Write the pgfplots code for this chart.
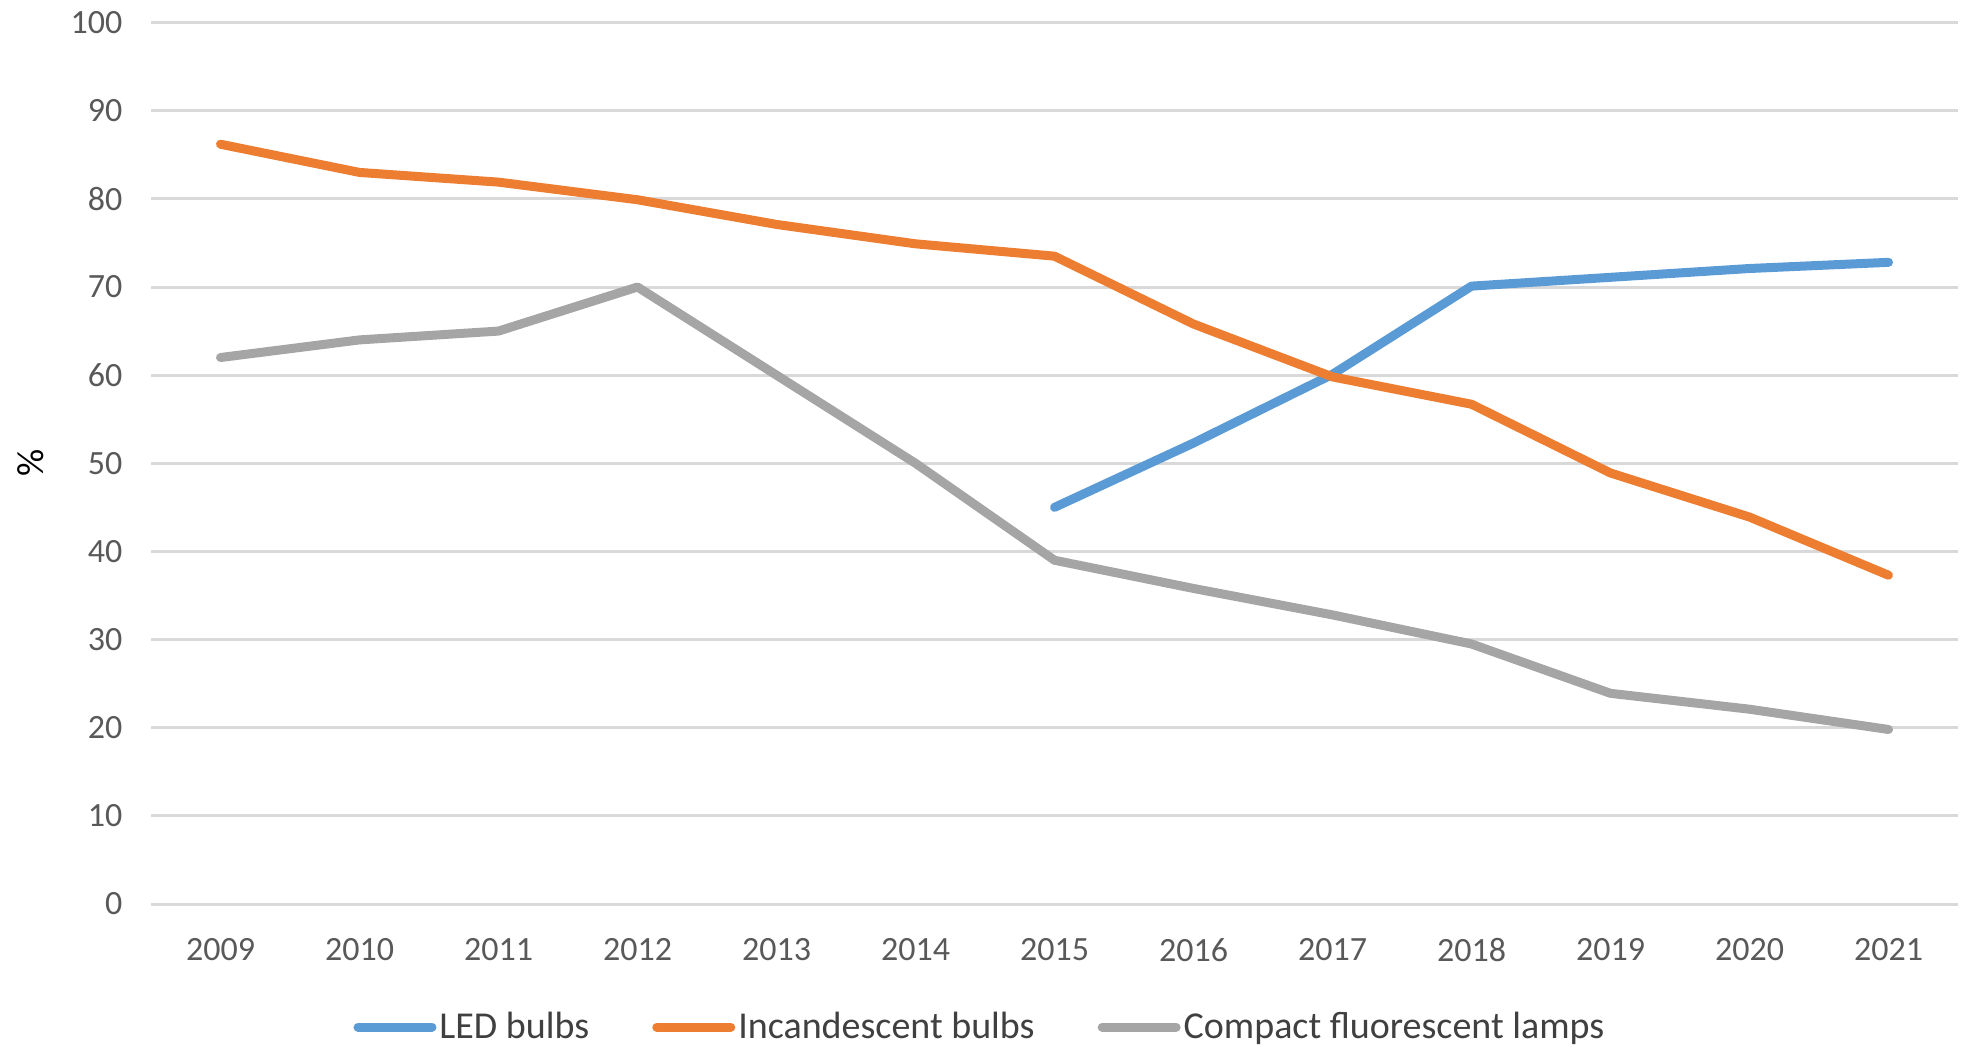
\documentclass[border=0pt]{standalone}
\usepackage{pgfplots}
\pgfplotsset{compat=1.18}
\usepackage{fontspec}
\setmainfont{Carlito}
\definecolor{cBlue}{HTML}{5B9BD5}
\definecolor{cOrange}{HTML}{ED7D31}
\definecolor{cGray}{HTML}{A5A5A5}
\definecolor{cGrid}{HTML}{D9D9D9}
\definecolor{cTick}{HTML}{595959}
\definecolor{cLeg}{HTML}{404040}
\begin{document}
\begin{tikzpicture}
\useasboundingbox (0,0) rectangle (984.5bp,525.5bp);
\begin{axis}[
  at={(75.5bp,73.5bp)}, anchor=south west,
  scale only axis, width=903.5bp, height=440.7bp,
  xmin=-0.5, xmax=12.5, ymin=0, ymax=100,
  xtick={0,1,2,3,4,5,6,7,8,9,10,11,12},
  xticklabels={2009,2010,2011,2012,2013,2014,2015,2016,2017,2018,2019,2020,2021},
  ytick={0,10,20,30,40,50,60,70,80,90,100},
  ymajorgrids, grid style={color=cGrid, line width=1.5bp},
  axis line style={draw=none}, major tick length=0pt,
  tick label style={font=\fontsize{17bp}{20bp}\selectfont, text=cTick},
  /pgf/number format/assume math mode=true,
  yticklabel style={xshift=-10.8bp},
  xticklabel style={yshift=-13.5bp},
  ylabel={\%},
  ylabel style={at={(axis description cs:-0.0664,0.5)}, anchor=center, font=\fontsize{19bp}{22bp}\selectfont, text=black},
  legend columns=3,
  legend style={at={(axis description cs:0.459,-0.1396)}, anchor=center, draw=none, fill=none,
    font=\fontsize{19bp}{22bp}\selectfont, text=cLeg,
    /tikz/every even column/.append style={column sep=30bp},
    nodes={inner sep=1.5bp}},
  legend image code/.code={\draw[#1, line width=4.5bp, line cap=round] (0bp,0bp) -- (37bp,0bp);},
  every axis plot/.append style={line width=4.5bp, line cap=round, line join=round},
]
\addplot[cBlue] coordinates {(6,45) (7,52.3) (8,60.1) (9,70.1) (10,71.1) (11,72.1) (12,72.8)};
\addlegendentry{LED bulbs}
\addplot[cOrange] coordinates {(0,86.2) (1,83.0) (2,81.9) (3,79.9) (4,77.1) (5,74.9) (6,73.5) (7,65.8) (8,59.8) (9,56.7) (10,48.9) (11,43.9) (12,37.3)};
\addlegendentry{Incandescent bulbs}
\addplot[cGray] coordinates {(0,62) (1,64) (2,65) (3,70) (4,60) (5,50) (6,39) (7,35.8) (8,32.8) (9,29.5) (10,23.9) (11,22.1) (12,19.8)};
\addlegendentry{Compact fluorescent lamps}
\end{axis}
\end{tikzpicture}
\end{document}
